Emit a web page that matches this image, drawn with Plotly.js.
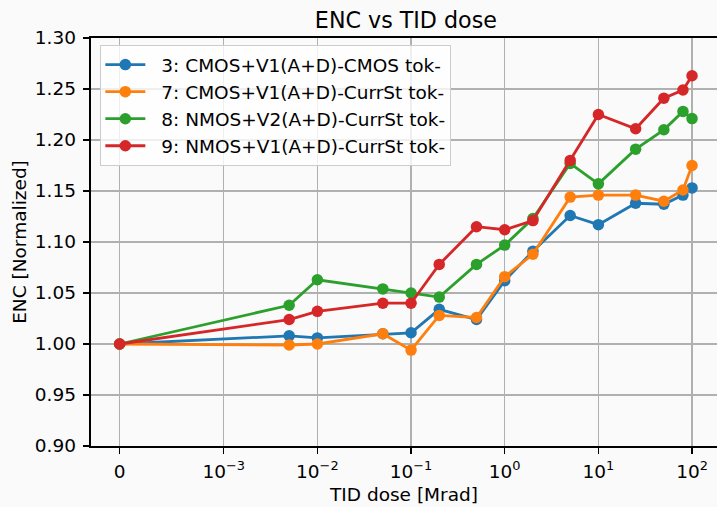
<!DOCTYPE html>
<html>
<head>
<meta charset="utf-8">
<script src="https://cdn.plot.ly/plotly-3.0.1.min.js"></script>
<style>html,body{margin:0;padding:0;background:#fafafa;}#chart{width:717px;height:507px;}</style>
</head>
<body>
<div id="chart"></div>
<script>
// ---- data ----
const doseMrad = [0, 0.005, 0.01, 0.05, 0.1, 0.2, 0.5, 1, 2, 5, 10, 25, 50, 80, 100];
const seriesNames = [
  "3: CMOS+V1(A+D)-CMOS tok-",
  "7: CMOS+V1(A+D)-CurrSt tok-",
  "8: NMOS+V2(A+D)-CurrSt tok-",
  "9: NMOS+V1(A+D)-CurrSt tok-"
];
const enc3 = [1.000, 1.008, 1.006, 1.010, 1.011, 1.034, 1.024, 1.062, 1.091, 1.126, 1.117, 1.138, 1.137, 1.146, 1.153];
const enc7 = [1.000, 0.999, 1.000, 1.010, 0.994, 1.028, 1.026, 1.066, 1.088, 1.144, 1.146, 1.146, 1.140, 1.151, 1.175];
const enc8 = [1.000, 1.038, 1.063, 1.054, 1.050, 1.046, 1.078, 1.097, 1.123, 1.177, 1.157, 1.191, 1.210, 1.228, 1.221];
const enc9 = [1.000, 1.024, 1.032, 1.040, 1.040, 1.078, 1.115, 1.112, 1.121, 1.180, 1.225, 1.211, 1.241, 1.249, 1.263];
const xTickValues = [0, 1e-3, 1e-2, 1e-1, 1, 10, 100];
const xTickLabels = ["0", "10<sup>\u22123</sup>", "10<sup>\u22122</sup>", "10<sup>\u22121</sup>", "10<sup>0</sup>", "10<sup>1</sup>", "10<sup>2</sup>"];
const yTickValues = [0.90, 0.95, 1.00, 1.05, 1.10, 1.15, 1.20, 1.25, 1.30];
const colors = ["#1f77b4", "#ff7f0e", "#2ca02c", "#d62728"];

// symmetric-log scale (linthresh 1e-3, linscale 1), as in the original
const LINTHRESH = 1e-3;
const LINSCALE_ADJ = 1 / (1 - 1 / 10);
function symlog(x) {
  const a = Math.abs(x);
  if (a <= LINTHRESH) return x / LINTHRESH * LINSCALE_ADJ;
  return Math.sign(x) * (LINSCALE_ADJ + Math.log10(a / LINTHRESH));
}

const allSeries = [enc3, enc7, enc8, enc9];
const traces = allSeries.map((ys, i) => ({
  type: "scatter", mode: "lines+markers", name: seriesNames[i], legendgroup: "g" + i,
  x: doseMrad.map(symlog), y: ys,
  line: {color: colors[i], width: 2.8}, marker: {color: colors[i], size: 11.5}
}));

const font = "DejaVu Sans, sans-serif";
const FS = 18.5;
const span = symlog(100) - symlog(0);
const layout = {
  width: 717, height: 507,
  paper_bgcolor: "#fafafa", plot_bgcolor: "#fafafa",
  margin: {l: 91, r: 0, t: 38, b: 61},
  font: {family: font, size: FS, color: "#000"},
  title: {text: "ENC vs TID dose", font: {family: font, size: 22.2, color: "#000"},
          x: 0.503, xref: "paper", xanchor: "center", y: 1 - 20.5 / 507, yref: "container", yanchor: "middle"},
  showlegend: true,
  legend: {
    x: 0.0149, y: 0.9826, xanchor: "left", yanchor: "top",
    bgcolor: "rgba(255,255,255,0.8)", bordercolor: "#cccccc", borderwidth: 1,
    font: {family: font, size: FS, color: "#000"},
    itemwidth: 50,
    tracegroupgap: 0, traceorder: "grouped"
  },
  xaxis: {
    range: [symlog(0) - 0.05 * span, symlog(0) - 0.05 * span + 626 / 93.67],
    tickmode: "array", tickvals: xTickValues.map(symlog), ticktext: xTickLabels,
    ticks: "outside", ticklen: 6.5, tickwidth: 1.5, tickcolor: "#000", ticklabelstandoff: 1,
    showline: true, linecolor: "#000", linewidth: 1.8, mirror: true,
    showgrid: true, gridcolor: "#b0b0b0", gridwidth: 1.5, zeroline: false,
    tickfont: {family: font, size: FS, color: "#000"},
    title: {text: "TID dose [Mrad]", font: {family: font, size: FS, color: "#000"}, standoff: 7.5}
  },
  yaxis: {
    range: [0.9, 1.3], tickmode: "array", tickvals: yTickValues, tickformat: ".2f",
    ticks: "outside", ticklen: 6.5, tickwidth: 1.5, tickcolor: "#000", ticklabelstandoff: 3,
    showline: true, linecolor: "#000", linewidth: 1.8,
    showgrid: true, gridcolor: "#b0b0b0", gridwidth: 1.5, zeroline: false,
    tickfont: {family: font, size: FS, color: "#000"},
    title: {text: "ENC [Normalized]", font: {family: font, size: FS, color: "#000"}, standoff: 3.5}
  }
};

Plotly.newPlot("chart", traces, layout, {staticPlot: true, displayModeBar: false}).then(() => {
  // lengthen legend handles to match the original's longer line samples
  document.querySelectorAll(".legend .legendlines path").forEach(p => p.setAttribute("d", "M4,0h40"));
  document.querySelectorAll(".legend .legendpoints path").forEach(p => p.setAttribute("transform", "translate(24,0)"));
});
</script>
</body>
</html>
